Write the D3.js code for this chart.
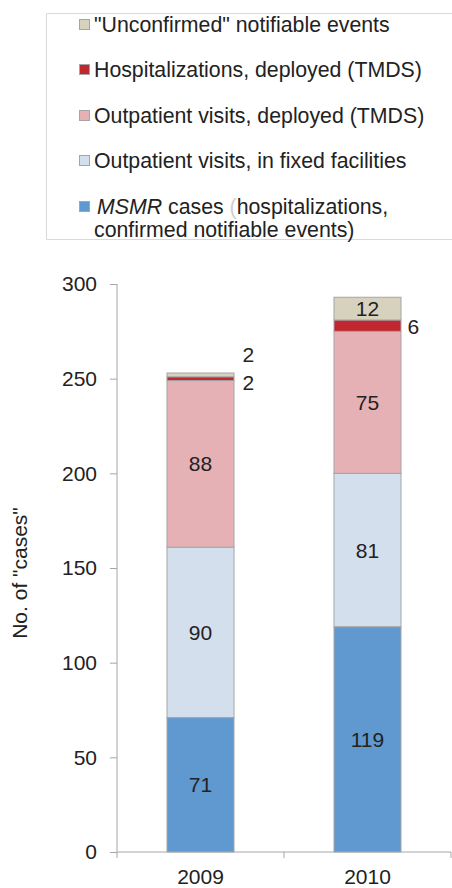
<!DOCTYPE html>
<html><head><meta charset="utf-8">
<script src="https://cdn.jsdelivr.net/npm/d3@7"></script>
<style>
body{margin:0;background:#fff;}
svg{display:block;font-family:"Liberation Sans",Arial,sans-serif;}
</style></head>
<body>
<div id="chart"></div>
<script>
const years = ["2009", "2010"];
const seriesNames = ["MSMR cases (hospitalizations, confirmed notifiable events)",
  "Outpatient visits, in fixed facilities",
  "Outpatient visits, deployed (TMDS)",
  "Hospitalizations, deployed (TMDS)",
  "\"Unconfirmed\" notifiable events"];
const msmrCases = [71, 119];
const outpatientFixed = [90, 81];
const outpatientDeployed = [88, 75];
const hospDeployed = [2, 6];
const unconfirmed = [2, 12];
const yTicks = [0, 50, 100, 150, 200, 250, 300];
const colors = ["#6098d0", "#d3dfed", "#e5b1b5", "#c1272e", "#d7d2bd"];

const W = 452, H = 888;
const FS = 21;
const LFS = 21.3;
const svg = d3.select("#chart").append("svg").attr("width", W).attr("height", H);

const keys = ["msmr","fixed","depOut","depHosp","unconf"];
const seriesArrays = [msmrCases, outpatientFixed, outpatientDeployed, hospDeployed, unconfirmed];
const table = years.map((y, i) => {
  const o = {year: y};
  keys.forEach((k, j) => o[k] = seriesArrays[j][i]);
  return o;
});
const stacked = d3.stack().keys(keys)(table);

const x = d3.scaleBand().domain(years).range([117, 451]).paddingInner(0).paddingOuter(0);
const y = d3.scaleLinear().domain([0, 300]).range([852, 284]);
const barW = 67;

// bars
const g = svg.append("g");
stacked.forEach((s, j) => {
  g.selectAll(null).data(s).enter().append("rect")
    .attr("x", d => x(d.data.year) + x.bandwidth()/2 - barW/2)
    .attr("width", barW)
    .attr("y", d => y(d[1]))
    .attr("height", d => y(d[0]) - y(d[1]))
    .attr("fill", colors[j])
    .attr("stroke", "#a5a5a5")
    .attr("stroke-width", 1);
});

// labels
const labelOffsets = {
  "2009": {depHosp: [1, 42, 4], unconf: [1, 42, -20]},
  "2010": {depHosp: [1, 40, 1]}
};
stacked.forEach((s, j) => {
  s.forEach(d => {
    const v = d[1] - d[0];
    const off = (labelOffsets[d.data.year] || {})[keys[j]];
    let cx = x(d.data.year) + x.bandwidth()/2;
    let cy = (y(d[0]) + y(d[1]))/2;
    let anchor = "middle";
    if (off) { cx += off[1]; cy += off[2]; anchor = "start"; }
    svg.append("text").attr("x", cx).attr("y", cy).attr("dy", "0.36em")
      .attr("text-anchor", anchor)
      .attr("font-size", FS).attr("fill", "#222")
      .text(v);
  });
});

// y axis
const yAxis = d3.axisLeft(y).tickValues(yTicks).tickSize(7).tickPadding(13);
const ya = svg.append("g").attr("transform", "translate(117,0)").call(yAxis);
ya.select(".domain").attr("stroke", "#a6a6a6").attr("d", "M0,284V852");
ya.selectAll(".tick line").attr("stroke", "#a6a6a6");
ya.selectAll(".tick text").attr("font-size", FS).attr("fill", "#222")
  .attr("font-family", "Liberation Sans, Arial, sans-serif");

// x axis
const xa = svg.append("g").attr("transform", "translate(0,852)")
  .call(d3.axisBottom(x).tickSize(0).tickPadding(17));
xa.select(".domain").attr("stroke", "#a6a6a6").attr("d", "M117,0H451");
xa.selectAll(".tick text").attr("font-size", FS).attr("fill", "#222")
  .attr("font-family", "Liberation Sans, Arial, sans-serif");
const sepTicks = [x.range()[0], x("2010"), x.range()[1]];
xa.selectAll(".sep").data(sepTicks).enter().append("line")
  .attr("x1", d => d).attr("x2", d => d).attr("y1", 0).attr("y2", 6)
  .attr("stroke", "#a6a6a6");

// y title
svg.append("text").attr("transform", "translate(27,573) rotate(-90)")
  .attr("text-anchor", "middle").attr("font-size", FS).attr("fill", "#222")
  .text("No. of \"cases\"");

// legend
svg.append("path").attr("d", "M452,13.5H46.5V239.5H452").attr("fill", "none").attr("stroke", "#d9d9d9");
const legendRows = [
  {c: 4, y: 32}, {c: 3, y: 77}, {c: 2, y: 123}, {c: 1, y: 168}, {c: 0, y: 214}
];
legendRows.forEach(r => {
  svg.append("rect").attr("x", 79.5).attr("y", r.y - 12.5).attr("width", 10).attr("height", 10)
    .attr("fill", colors[r.c]).attr("stroke", "#a5a5a5").attr("stroke-width", 1);
  if (r.c !== 0) {
    svg.append("text").attr("x", 94).attr("y", r.y).attr("font-size", LFS).attr("fill", "#222")
      .text(seriesNames[r.c]);
  }
});
const t5 = svg.append("text").attr("x", 97).attr("y", 214).attr("font-size", LFS).attr("fill", "#222");
t5.append("tspan").attr("font-style", "italic").text("MSMR");
t5.append("tspan").text(" cases ");
t5.append("tspan").attr("fill", "#d0d0d0").text(" (");
t5.append("tspan").text("hospitalizations,");
svg.append("text").attr("x", 94).attr("y", 237).attr("font-size", LFS).attr("fill", "#222")
  .text("confirmed notifiable events)");
</script>
</body></html>
